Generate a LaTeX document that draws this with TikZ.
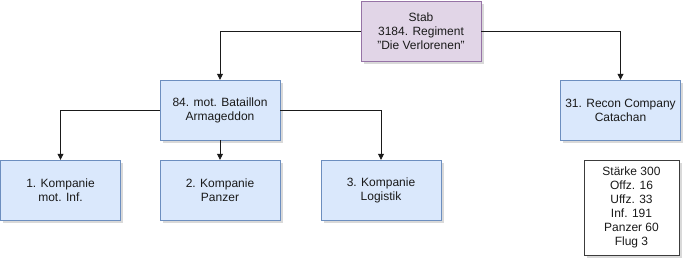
\documentclass[tikz,border=0pt]{standalone}
\usepackage{fontspec}
\setmainfont{Liberation Sans}
\usetikzlibrary{arrows.meta,shadows}
\definecolor{StabFill}{HTML}{E1D5E7}
\definecolor{StabLine}{HTML}{9673A6}
\definecolor{UnitFill}{HTML}{DAE8FC}
\definecolor{UnitLine}{HTML}{6C8EBF}
\definecolor{Ink}{HTML}{1A1A1A}

\begin{document}
\begin{tikzpicture}[x=1pt,y=-1pt,
    unit/.style={draw=UnitLine,fill=UnitFill,minimum width=120pt,minimum height=60pt,align=center,
      text=Ink,font=\fontsize{12}{14}\selectfont,
      drop shadow={shadow xshift=2.5pt,shadow yshift=-2.5pt,opacity=.3}},
    arr/.style={-{Triangle[length=6pt,width=6pt]},draw=Ink,line width=.8pt}
  ]
    \useasboundingbox (0,0) rectangle (694,271);
    \node[unit,draw=StabLine,fill=StabFill] (stab) at (421,31) {Stab\\3184. Regiment\\"Die Verlorenen"};
    \node[unit] (bat) at (220,110) {84. mot. Bataillon\\Armageddon};
    \node[unit] (recon) at (620.5,110) {31. Recon Company\\Catachan};
    \node[unit] (k1) at (60.5,190) {1. Kompanie\\mot. Inf.};
    \node[unit] (k2) at (220,190) {2. Kompanie\\Panzer};
    \node[unit] (k3) at (381,190) {3. Kompanie\\Logistik};
    \node[unit,draw=Ink!85,fill=white,minimum width=95pt,minimum height=95pt] (staerke) at (631.5,207.5)
      {Stärke 300\\Offz. 16\\Uffz. 33\\Inf. 191\\Panzer 60\\Flug 3};
    \draw[arr] (stab.west) -| (bat.north);
    \draw[arr] (stab.east) -| (recon.north);
    \draw[arr] (bat.west) -| (k1.north);
    \draw[arr] (bat.south) -- (k2.north);
    \draw[arr] (bat.east) -| (k3.north);
  \end{tikzpicture}
\end{document}
